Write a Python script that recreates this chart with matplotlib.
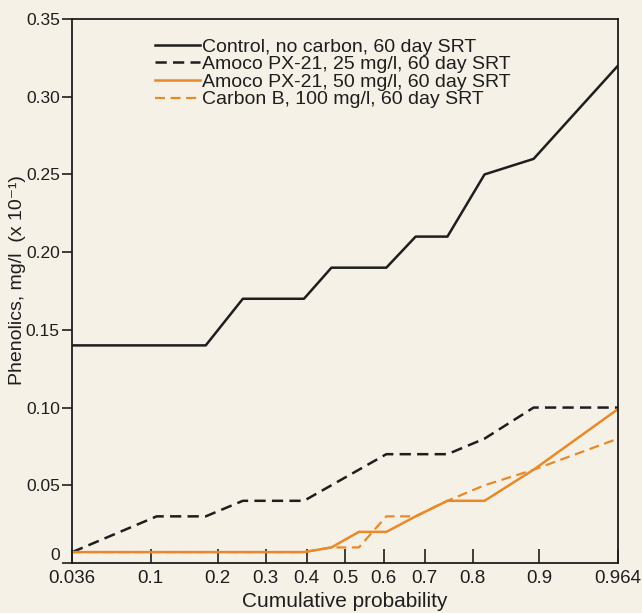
import numpy as np
import matplotlib
matplotlib.use('Agg')
import matplotlib.pyplot as plt
from statistics import NormalDist

# plotting positions (cumulative probability) of the 14 samples
prob = [0.036, 0.107, 0.179, 0.25, 0.321, 0.393, 0.464,
        0.536, 0.607, 0.679, 0.75, 0.821, 0.893, 0.964]

# phenolics, mg/l (x 10^-1)
control = [0.14, 0.14, 0.14, 0.17, 0.17, 0.17, 0.19,
           0.19, 0.19, 0.21, 0.21, 0.25, 0.26, 0.32]
px21_25 = [0.007, 0.03, 0.03, 0.04, 0.04, 0.04, 0.05,
           0.06, 0.07, 0.07, 0.07, 0.08, 0.10, 0.10]
px21_50 = [0.007, 0.007, 0.007, 0.007, 0.007, 0.007, 0.01,
           0.02, 0.02, 0.03, 0.04, 0.04, 0.06, 0.099]
carbon_b = [0.007, 0.007, 0.007, 0.007, 0.007, 0.007, 0.01,
            0.01, 0.03, 0.03, 0.04, 0.05, 0.06, 0.08]

labels = ['Control, no carbon, 60 day SRT',
          'Amoco PX-21, 25 mg/l, 60 day SRT',
          'Amoco PX-21, 50 mg/l, 60 day SRT',
          'Carbon B, 100 mg/l, 60 day SRT']

xticks = [0.036, 0.1, 0.2, 0.3, 0.4, 0.5, 0.6, 0.7, 0.8, 0.9, 0.964]
xticklabels = ['0.036', '0.1', '0.2', '0.3', '0.4', '0.5', '0.6',
               '0.7', '0.8', '0.9', '0.964']
yticks = [0, 0.05, 0.10, 0.15, 0.20, 0.25, 0.30, 0.35]
yticklabels = ['0', '0.05', '0.10', '0.15', '0.20', '0.25', '0.30', '0.35']

# normal probability scale
_nd = NormalDist()


def prob_fwd(p):
    p = np.clip(np.asarray(p, dtype=float), 1e-6, 1 - 1e-6)
    return np.vectorize(_nd.inv_cdf, otypes=[float])(p)


def prob_inv(z):
    return np.vectorize(_nd.cdf, otypes=[float])(np.asarray(z, dtype=float))


plt.rcParams['font.family'] = ['Liberation Sans', 'DejaVu Sans']
paper = '#f6f1e6'
ink = '#1e1e1e'
orange = '#e8892a'

fig = plt.figure(figsize=(6.42, 6.13), dpi=100, facecolor=paper)
ax = fig.add_axes([0.1126, 0.0816, 0.850, 0.8874], facecolor=paper)
ax.set_xscale('function', functions=(prob_fwd, prob_inv))

ax.plot(prob, control, color=ink, lw=1.8, label=labels[0])
ax.plot(prob, px21_25, color=ink, lw=1.8, ls=(0, (4.5, 2.5)), label=labels[1])
ax.plot(prob, px21_50, color=orange, lw=1.8, label=labels[2])
ax.plot(prob, carbon_b, color=orange, lw=1.6, ls=(0, (4.5, 2.5)), label=labels[3])

ax.set_xlim(0.036, 0.964)
ax.set_ylim(0, 0.35)

ax.set_xticks(xticks)
ax.set_xticklabels(xticklabels)
ax.xaxis.set_minor_locator(matplotlib.ticker.NullLocator())
ax.set_yticks(yticks)
ax.set_yticklabels(yticklabels)
ax.get_yticklabels()[0].set_verticalalignment('bottom')

ax.tick_params(axis='x', direction='in', length=10, width=1.2, pad=5,
               labelsize=13.5, colors=ink)
ax.tick_params(axis='y', direction='out', length=7, width=1.2, pad=2,
               labelsize=12.5, colors=ink)
for s in ax.spines.values():
    s.set_linewidth(1.3)
    s.set_color(ink)

ax.set_xlabel('Cumulative probability', fontsize=15, color=ink, labelpad=4)
ax.set_ylabel('Phenolics, mg/l  (x 10⁻¹)', fontsize=14, color=ink)
ax.yaxis.set_label_coords(-0.084, 0.52)

ax.legend(loc='upper left', bbox_to_anchor=(0.152, 0.965), frameon=False,
          fontsize=14, handlelength=2.3, handletextpad=0.1,
          labelspacing=0.0, borderaxespad=0, borderpad=0,
          labelcolor=ink)

fig.savefig('out.png', dpi=100, facecolor=paper)
